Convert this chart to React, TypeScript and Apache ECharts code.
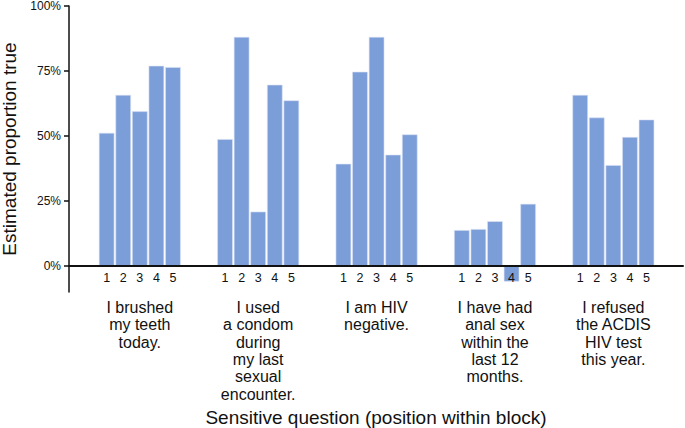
import React, { useEffect, useRef } from "react";
import * as echarts from "echarts";

// ---- data ----
const groupLabels: string[] = [
  "I brushed\nmy teeth\ntoday.",
  "I used\na condom\nduring\nmy last\nsexual\nencounter.",
  "I am HIV\nnegative.",
  "I have had\nanal sex\nwithin the\nlast 12\nmonths.",
  "I refused\nthe ACDIS\nHIV test\nthis year.",
];
const positionLabels: string[] = ["1", "2", "3", "4", "5"];
const brushedTeeth: number[] = [51.2, 65.8, 59.5, 77.0, 76.5];
const usedCondom: number[] = [48.8, 88.1, 20.9, 69.7, 63.7];
const hivNegative: number[] = [39.3, 74.7, 88.1, 42.8, 50.6];
const analSex: number[] = [13.8, 14.2, 17.2, -6.0, 23.9];
const refusedTest: number[] = [65.8, 57.1, 38.8, 49.6, 56.3];
const groupValues: number[][] = [brushedTeeth, usedCondom, hivNegative, analSex, refusedTest];
const yTicks: number[] = [0, 25, 50, 75, 100];

// ---- layout constants ----
const GROUP_SPACING = 7.14; // in bar-slot units
const X_MIN = -2.27;
const X_MAX = 34.76;
const Y_MIN = -10;
const Y_MAX = 100;
const GRID_TOP = 6;
const GRID_BOTTOM = 136;
const CHART_H = 428;
// distance from grid bottom up to the 0% line
const ZERO_OFFSET = ((0 - Y_MIN) / (Y_MAX - Y_MIN)) * (CHART_H - GRID_TOP - GRID_BOTTOM);

const barData: [number, number][] = [];
const barPositions: number[] = [];
const barPosLabel: string[] = [];
groupValues.forEach((vals, gi) => {
  vals.forEach((v, pi) => {
    const x = gi * GROUP_SPACING + pi;
    barData.push([x, v]);
    barPositions.push(x);
    barPosLabel.push(positionLabels[pi]);
  });
});
const groupCenters: number[] = groupLabels.map((_, gi) => gi * GROUP_SPACING + (positionLabels.length - 1) / 2);

const lookup = (arr: number[], labels: string[], v: number) => {
  for (let i = 0; i < arr.length; i++) {
    if (Math.abs(arr[i] - v) < 1e-6) return labels[i];
  }
  return "";
};

const FONT = "'Liberation Sans', Arial, Helvetica, sans-serif";
const INK = "#111";

export default function App() {
  const ref = useRef<HTMLDivElement>(null);
  useEffect(() => {
    if (!ref.current) return;
    const chart = echarts.init(ref.current, undefined, { renderer: "svg" });
    chart.setOption({
      animation: false,
      backgroundColor: "#fff",
      textStyle: { fontFamily: FONT },
      grid: { left: 69, right: 2, top: GRID_TOP, bottom: GRID_BOTTOM, containLabel: false, outerBoundsMode: "none" },
      xAxis: [
        {
          type: "value",
          min: X_MIN,
          max: X_MAX,
          position: "bottom",
          offset: -ZERO_OFFSET,
          z: 10,
          axisLine: { show: true, onZero: false, lineStyle: { color: INK, width: 2 } },
          axisTick: { show: false },
          splitLine: { show: false },
          axisLabel: {
            customValues: barPositions,
            formatter: (v: number) => lookup(barPositions, barPosLabel, v),
            fontSize: 12.5,
            color: INK,
            margin: 5,
            hideOverlap: false,
            fontFamily: FONT,
          },
        },
        {
          type: "value",
          min: X_MIN,
          max: X_MAX,
          position: "bottom",
          offset: 0,
          axisLine: { show: false, onZero: false },
          axisTick: { show: false },
          splitLine: { show: false },
          axisLabel: {
            customValues: groupCenters,
            formatter: (v: number) => lookup(groupCenters, groupLabels, v),
            fontSize: 16,
            lineHeight: 17.3,
            color: INK,
            margin: 7,
            fontFamily: FONT,
          },
          name: "Sensitive question (position within block)",
          nameLocation: "middle",
          nameGap: 112,
          nameTextStyle: { fontSize: 19, color: INK, fontFamily: FONT },
        },
      ],
      yAxis: {
        type: "value",
        min: Y_MIN,
        max: Y_MAX,
        axisLine: { show: true, onZero: false, lineStyle: { color: INK, width: 1.5 } },
        axisTick: { show: true, length: 5, customValues: yTicks, lineStyle: { color: INK, width: 1.5 } },
        splitLine: { show: false },
        axisLabel: {
          customValues: yTicks,
          formatter: (v: number) => `${v}%`,
          fontSize: 12,
          color: INK,
          margin: 8,
          fontFamily: FONT,
        },
        name: "Estimated proportion true",
        nameLocation: "middle",
        nameGap: 48,
        nameTextStyle: { fontSize: 19, color: INK, fontFamily: FONT },
      },
      series: [
        {
          type: "bar",
          xAxisIndex: 0,
          data: barData,
          barWidth: 15.5,
          itemStyle: { color: "#7b9dd8", borderColor: "#d6e0f4", borderWidth: 0.6 },
        },
      ],
    });
    return () => chart.dispose();
  }, []);
  return (
    <div
      ref={ref}
      style={{ position: "absolute", left: 0, top: 0, width: 685, height: 428 }}
    />
  );
}
